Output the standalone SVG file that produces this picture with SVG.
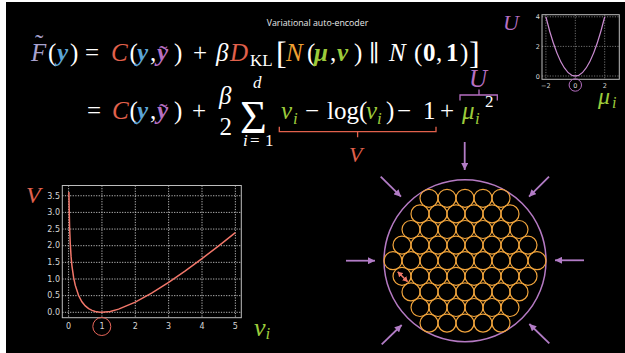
<svg xmlns="http://www.w3.org/2000/svg" width="625" height="353" viewBox="0 0 625 353">
<defs>
<style>
.m{font-family:"Liberation Serif","DejaVu Serif",serif;font-size:25px;fill:#ffffff}
.it{font-style:italic}
.bi{font-style:italic;font-weight:bold}
.b{font-weight:bold}
.red{fill:#e2614c}
.blue{fill:#5ba5d8}
.pur{fill:#b66fc2}
.lav{fill:#a9a3cf}
.org{fill:#f0a132}
.grn{fill:#9ccb3b}
.tick{font-family:"DejaVu Sans",sans-serif;fill:#d6d6d6}
.grid{stroke:#d0d0d0;stroke-width:0.9;stroke-dasharray:1.2 1.4;fill:none}
.grid2{stroke:#8a8a8a;stroke-width:0.8;stroke-dasharray:1.2 1.4;fill:none}
.frame{fill:none;stroke:#bdbdbd;stroke-width:1}
.oc{fill:none;stroke:#f0a43c;stroke-width:1.2}
.parrow{stroke:#b27cc6;stroke-width:1.8;fill:none;marker-end:url(#ph)}
</style>
<marker id="ph" markerUnits="userSpaceOnUse" markerWidth="8" markerHeight="7" refX="7" refY="3.5" orient="auto"><path d="M0,0 L7,3.5 L0,7 z" fill="#b27cc6"/></marker>
<marker id="rh" markerUnits="userSpaceOnUse" markerWidth="6" markerHeight="6" refX="5" refY="3" orient="auto-start-reverse"><path d="M0,0 L5,3 L0,6 z" fill="#f07a6a"/></marker>
</defs>
<rect x="0" y="0" width="625" height="353" fill="#ffffff"/>
<rect x="6" y="2" width="619" height="351" fill="#000000"/>

<g id="title"><text x="317.5" y="26" text-anchor="middle" font-family="'Open Sans',sans-serif" font-size="8.8" fill="#e8e8e8">Variational auto-encoder</text></g>

<g id="equation-line1">
<text class="m" y="61"><tspan x="31" class="it lav">F</tspan><tspan x="48">(</tspan><tspan x="57" class="bi blue">y</tspan><tspan x="70">)</tspan><tspan x="85">=</tspan><tspan x="111" class="it red">C</tspan><tspan x="129.5">(</tspan><tspan x="137" class="bi blue">y</tspan><tspan x="150">,</tspan><tspan x="157" class="bi pur">y</tspan><tspan x="174">)</tspan><tspan x="193">+</tspan><tspan x="216" class="it">β</tspan><tspan x="230" class="it red">D</tspan><tspan x="286" class="it org">N</tspan><tspan x="307">(</tspan><tspan x="314" class="bi grn">μ</tspan><tspan x="330">,</tspan><tspan x="337" class="bi grn">v</tspan><tspan x="354">)</tspan><tspan x="389" class="it">N</tspan><tspan x="414">(</tspan><tspan x="423" class="b">0</tspan><tspan x="436">,</tspan><tspan x="446" class="b">1</tspan><tspan x="460">)</tspan></text>
<text class="m lav" x="35" y="52">˜</text>
<text class="m pur" x="159" y="63">˜</text>
<text class="m" x="250" y="66" style="font-size:17px">KL</text>
<text class="m" x="276" y="64" style="font-size:32px">[</text>
<text class="m" x="469" y="64" style="font-size:32px">]</text>
<text x="369" y="61" font-family="'DejaVu Serif',serif" font-size="23" fill="#ffffff">∥</text>
</g>

<g id="equation-line2">
<text class="m" y="119"><tspan x="87">=</tspan><tspan x="112" class="it red">C</tspan><tspan x="129.5">(</tspan><tspan x="137" class="bi blue">y</tspan><tspan x="150">,</tspan><tspan x="157" class="bi pur">y</tspan><tspan x="174">)</tspan><tspan x="192">+</tspan><tspan x="281" class="it grn">v</tspan><tspan x="305">−</tspan><tspan x="327">log</tspan><tspan x="359">(</tspan><tspan x="366" class="it grn">v</tspan><tspan x="386">)</tspan><tspan x="397">−</tspan><tspan x="423">1</tspan><tspan x="440">+</tspan><tspan x="462" class="it grn">μ</tspan></text>
<text class="m pur" x="159" y="121">˜</text>
<text class="m it" x="219" y="104">β</text>
<text class="m" x="219.5" y="135">2</text>
<text class="m" x="240" y="133" style="font-size:46px">Σ</text>
<text class="m it" x="253" y="88" style="font-size:17px">d</text>
<text class="m" y="146" style="font-size:17px"><tspan x="243" class="it">i</tspan><tspan x="250">=</tspan><tspan x="265">1</tspan></text>
<text class="m it grn" x="293" y="124" style="font-size:17px">i</text>
<text class="m it grn" x="377" y="124" style="font-size:17px">i</text>
<text class="m it grn" x="475" y="124" style="font-size:17px">i</text>
<text class="m" x="485" y="107" style="font-size:17px">2</text>
<path d="M279.3,126.7 L279.3,131.7 L436,131.7 L436,126.7 M357.6,131.7 L357.6,137.3" fill="none" stroke="#e2614c" stroke-width="1.3"/>
<text class="m it red" x="349" y="161.5" style="font-size:22px">V</text>
<path d="M460,100.5 L460,95 L497.3,95 L497.3,100.5 M479,95 L479,89.5" fill="none" stroke="#b66fc2" stroke-width="1.3"/>
<text class="m it pur" x="469" y="86.5" style="font-size:25px">U</text>
</g>

<g id="plot-U">
<path class="grid2" d="M545.9,14.7 V79.3 M575.3,14.7 V79.3 M604.7,14.7 V79.3 M542,76 H619.3 M542,46.4 H619.3 M542,16.8 H619.3"/>
<rect class="frame" x="542" y="14.7" width="77.3" height="64.6"/>
<path d="M545.9,16.8 Q575.3,135.2 604.7,16.8" fill="none" stroke="#c98bd0" stroke-width="1.3"/>
<g class="tick" font-size="6.5" text-anchor="end"><text x="540" y="19">4</text><text x="540" y="49">2</text><text x="540" y="78.5">0</text></g>
<g class="tick" font-size="6.5" text-anchor="middle"><text x="545.9" y="87.5">−2</text><text x="575.3" y="87.5">0</text><text x="604.7" y="87.5">2</text></g>
<circle cx="575.3" cy="85" r="6.2" fill="none" stroke="#b66fc2" stroke-width="1"/>
<text class="m it pur" x="503" y="30" style="font-size:22px">U</text>
<text class="m it grn" x="598" y="104" style="font-size:24px">μ</text>
<text class="m it grn" x="612" y="108" style="font-size:16px">i</text>
</g>

<g id="plot-V">
<path class="grid" d="M68.6,185.5 V317.7 M101.95,185.5 V317.7 M135.3,185.5 V317.7 M168.65,185.5 V317.7 M202,185.5 V317.7 M235.35,185.5 V317.7 M62.3,312.3 H241.3 M62.3,295.65 H241.3 M62.3,279 H241.3 M62.3,262.35 H241.3 M62.3,245.7 H241.3 M62.3,229.05 H241.3 M62.3,212.4 H241.3 M62.3,195.75 H241.3"/>
<rect class="frame" x="62.3" y="185.5" width="179" height="132.2"/>
<polyline fill="none" stroke="#f2776a" stroke-width="1.5" points="68.9,191.9 69.3,214.7 69.6,227.8 70.3,244.2 71.1,256.9 71.9,265.6 73.6,277.4 75.3,285.4 78.6,295.5 81.9,301.8 85.3,305.9 88.6,308.6 92,310.4 95.3,311.5 98.6,312.1 101.95,312.3 110.3,311.4 118.6,309.1 135.3,302.1 152,292.9 168.65,282.3 185.3,270.8 202,258.6 218.7,245.8 235.35,232.7"/>
<g class="tick" font-size="8" text-anchor="end"><text x="60" y="315">0.0</text><text x="60" y="298.4">0.5</text><text x="60" y="281.7">1.0</text><text x="60" y="265.1">1.5</text><text x="60" y="248.4">2.0</text><text x="60" y="231.8">2.5</text><text x="60" y="215.1">3.0</text><text x="60" y="198.5">3.5</text></g>
<g class="tick" font-size="8" text-anchor="middle"><text x="68.6" y="328.5">0</text><text x="101.95" y="328.5">1</text><text x="135.3" y="328.5">2</text><text x="168.65" y="328.5">3</text><text x="202" y="328.5">4</text><text x="235.35" y="328.5">5</text></g>
<circle cx="101.8" cy="326.5" r="9" fill="none" stroke="#e8665a" stroke-width="1"/>
<text class="m it red" x="26" y="203" style="font-size:24px">V</text>
<text class="m it grn" x="254" y="336" style="font-size:26px">v</text>
<text class="m it grn" x="265.5" y="339" style="font-size:17px">i</text>
</g>

<g id="packing">
<circle cx="465" cy="260.7" r="81" fill="none" stroke="#b57ac3" stroke-width="1.5"/>
<g id="small-circles">
<circle class="oc" cx="429" cy="198.3" r="9"/><circle class="oc" cx="447" cy="198.3" r="9"/><circle class="oc" cx="465" cy="198.3" r="9"/><circle class="oc" cx="483" cy="198.3" r="9"/><circle class="oc" cx="501" cy="198.3" r="9"/>
<circle class="oc" cx="420" cy="213.9" r="9"/><circle class="oc" cx="438" cy="213.9" r="9"/><circle class="oc" cx="456" cy="213.9" r="9"/><circle class="oc" cx="474" cy="213.9" r="9"/><circle class="oc" cx="492" cy="213.9" r="9"/><circle class="oc" cx="510" cy="213.9" r="9"/>
<circle class="oc" cx="411" cy="229.5" r="9"/><circle class="oc" cx="429" cy="229.5" r="9"/><circle class="oc" cx="447" cy="229.5" r="9"/><circle class="oc" cx="465" cy="229.5" r="9"/><circle class="oc" cx="483" cy="229.5" r="9"/><circle class="oc" cx="501" cy="229.5" r="9"/><circle class="oc" cx="519" cy="229.5" r="9"/>
<circle class="oc" cx="402" cy="245.1" r="9"/><circle class="oc" cx="420" cy="245.1" r="9"/><circle class="oc" cx="438" cy="245.1" r="9"/><circle class="oc" cx="456" cy="245.1" r="9"/><circle class="oc" cx="474" cy="245.1" r="9"/><circle class="oc" cx="492" cy="245.1" r="9"/><circle class="oc" cx="510" cy="245.1" r="9"/><circle class="oc" cx="528" cy="245.1" r="9"/>
<circle class="oc" cx="393" cy="260.7" r="9"/><circle class="oc" cx="411" cy="260.7" r="9"/><circle class="oc" cx="429" cy="260.7" r="9"/><circle class="oc" cx="447" cy="260.7" r="9"/><circle class="oc" cx="465" cy="260.7" r="9"/><circle class="oc" cx="483" cy="260.7" r="9"/><circle class="oc" cx="501" cy="260.7" r="9"/><circle class="oc" cx="519" cy="260.7" r="9"/><circle class="oc" cx="537" cy="260.7" r="9"/>
<circle class="oc" cx="402" cy="276.3" r="9"/><circle class="oc" cx="420" cy="276.3" r="9"/><circle class="oc" cx="438" cy="276.3" r="9"/><circle class="oc" cx="456" cy="276.3" r="9"/><circle class="oc" cx="474" cy="276.3" r="9"/><circle class="oc" cx="492" cy="276.3" r="9"/><circle class="oc" cx="510" cy="276.3" r="9"/><circle class="oc" cx="528" cy="276.3" r="9"/>
<circle class="oc" cx="411" cy="291.9" r="9"/><circle class="oc" cx="429" cy="291.9" r="9"/><circle class="oc" cx="447" cy="291.9" r="9"/><circle class="oc" cx="465" cy="291.9" r="9"/><circle class="oc" cx="483" cy="291.9" r="9"/><circle class="oc" cx="501" cy="291.9" r="9"/><circle class="oc" cx="519" cy="291.9" r="9"/>
<circle class="oc" cx="420" cy="307.5" r="9"/><circle class="oc" cx="438" cy="307.5" r="9"/><circle class="oc" cx="456" cy="307.5" r="9"/><circle class="oc" cx="474" cy="307.5" r="9"/><circle class="oc" cx="492" cy="307.5" r="9"/><circle class="oc" cx="510" cy="307.5" r="9"/>
<circle class="oc" cx="429" cy="323.1" r="9"/><circle class="oc" cx="447" cy="323.1" r="9"/><circle class="oc" cx="465" cy="323.1" r="9"/><circle class="oc" cx="483" cy="323.1" r="9"/><circle class="oc" cx="501" cy="323.1" r="9"/>
</g>
<line x1="397.7" y1="271.7" x2="407.7" y2="281.7" stroke="#f07a6a" stroke-width="1.6" marker-start="url(#rh)" marker-end="url(#rh)"/>
</g>

<g id="connectors">
<line class="parrow" x1="464.7" y1="142" x2="464.7" y2="170"/>
<line class="parrow" x1="380.7" y1="176.7" x2="401" y2="196.7"/>
<line class="parrow" x1="549" y1="176.7" x2="529" y2="196.7"/>
<line class="parrow" x1="346" y1="260.7" x2="375" y2="260.7"/>
<line class="parrow" x1="584" y1="260.3" x2="555" y2="260.3"/>
<line class="parrow" x1="381.7" y1="344.3" x2="401.7" y2="325"/>
<line class="parrow" x1="549.3" y1="343.3" x2="529.3" y2="324"/>
</g>
</svg>
